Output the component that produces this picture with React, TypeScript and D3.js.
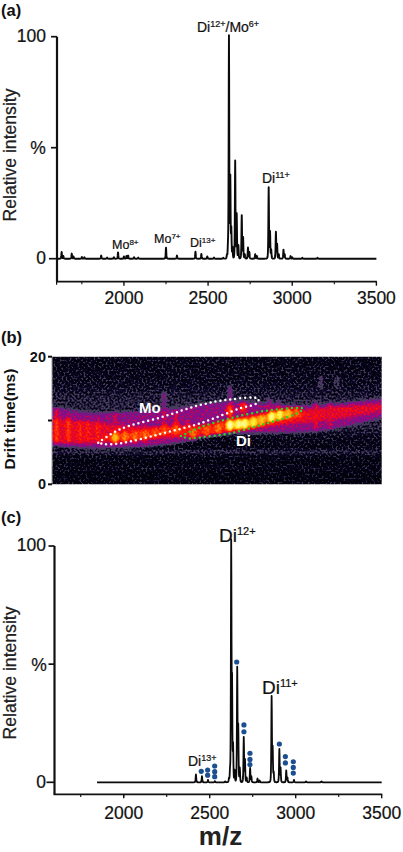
import React from "react";
import * as d3 from "d3";

// ---- Panel (a) spectrum: centroid m/z, relative intensity
const peaksAMz = [1630,1640,1690,1700,1750,1765,1865,1900,1940,1965,2000,2015,2025,2060,2085,2250,2315,2425,2460,2495,2535,2590,2612,2618,2624,2632,2638,2645,2661,2670,2680,2700,2708,2718,2737,2745,2780,2790,2860,2868,2875,2903,2910,2920,2948,2955,2990,3000,3060,3150];
const peaksAInt = [3,1.2,2.3,1,0.8,0.6,1.4,0.5,0.7,2.8,1,1.2,1.4,0.7,0.5,5,1.4,3.2,2.1,1,0.5,0.4,1.5,4,100,36,13,5,44,20,6,19.5,9.5,2,5,3,2,1.2,32,12,4,12,6.5,2,4,2,1.2,0.6,0.4,0.4];

// ---- Panel (c) spectrum
const peaksCMz = [2420,2455,2490,2530,2590,2612,2618,2625,2630,2636,2645,2660,2666,2675,2698,2705,2715,2735,2742,2778,2790,2860,2866,2872,2905,2912,2945,2952,2990,3060,3150];
const peaksCInt = [3.3,2.6,1,0.5,0.4,1.5,4,100,39,15,5,48,23,6,19,9.5,2,6,2.5,1.6,0.8,36,14,4,14,6,5,2,1,0.4,0.4];

// ---- Glycan-like dots on panel (c)
const dotMz = [2451,2488,2488,2529,2529,2529,2657,2699,2699,2734,2734,2734,2905,2940,2940,2986,2986,2986];
const dotInt = [4.65,5.2,3,6.9,4.5,2.4,50.9,24.3,21.4,12.3,9.7,7.5,16.2,10.9,8.2,8.7,6.3,3.9];

// ---- Panel (b) drift map
const haloMz = [1583,1862,2250,2637,3025,3500];
const haloHigh = [12.2,11.2,11.8,13.0,12.4,13.5];
const haloLow = [6.0,5.6,6.2,7.9,8.1,10.4];
const coreMz = [1583,1862,2153,2442,2637,2900,3123,3500];
const coreHigh = [10.4,9.6,9,9.3,10,11.1,11.9,12.6];
const coreLow = [6.5,6.5,7.1,7.6,8.2,9.2,9.8,11.5];
const ridgeMz = [1880,2000,2150,2300,2420,2620,2800,2950,3060];
const ridgeHigh = [7.6,8.2,8.6,9.1,9.1,10.2,11.1,11.6,11.4];
const ridgeLow = [6.9,6.8,7.2,7.8,7.7,8.4,9.2,10,10.7];
const hotMz = [2590,2650,2720,2800,2870,2960];
const hotHigh = [9.7,10,10.2,10.8,11.5,11.7];
const hotLow = [8.6,8.7,8.9,9.5,10,10.6];
const streakMz = [1610,1678,1746,1792,1851,1950,2235,2304,2370,2618,2694,2846,2898,3118,3199,3145,3240,1610];
const streakLow = [6.5,6.5,6.5,6.5,6.5,9.5,8,8,8,9,11,11,11,8.5,8.5,15,15,10];
const streakHigh = [10.5,10.5,10,10,10,11.5,14.5,11,10,15.5,13,13.5,13,13,13,17,17,11.8];
const streakGray = [0.74,0.74,0.68,0.66,0.66,0.54,0.54,0.62,0.62,0.54,0.56,0.53,0.53,0.6,0.56,0.36,0.3,0.6];
const blobMz = [1950,2008,2066,2124,2182,2235,2304,2405,2483,2550,2618,2666,2705,2754,2802,2860,2908,2957,3005,2618,2694];
const blobDrift = [7.3,7.4,7.5,7.7,8,8.5,8.7,7.9,8.4,8.8,9.3,9.4,9.5,9.7,10,10.6,10.9,11.1,11.3,11.5,12];
const blobGray = [0.84,0.76,0.74,0.74,0.7,0.7,0.72,0.74,0.72,0.76,0.98,0.95,0.95,0.9,0.84,0.95,0.92,0.84,0.72,0.7,0.64];
const moMz = [1852,1978,2230,2444,2618,2783,2773,2676,2444,2211,1978,1881,1852];
const moDrift = [6.53,8.62,10.6,12.43,13.3,13.42,12.69,11.9,9.56,7.88,6.42,6.32,6.53];
const diMz = [2333,2444,2618,2831,3044,2986,2831,2618,2444,2376,2333];
const diDrift = [7.57,8.93,10.34,11.54,11.85,10.86,9.56,7.99,7.36,7.2,7.57];
const bgDrift = [20,16,13,9,7,5.5,5.1,4.6,3,2.6,2.2,0];
const bgGray = [0.04,0.07,0.14,0.14,0.05,0.04,0.22,0.04,0.02,0.08,0.02,0.02];

const xTicks = [2000,2500,3000,3500];
const xMinor = [1750,2250,2750,3250];
const yTicks = [0,50,100];

const FONT = "'Liberation Sans', Arial, sans-serif";
const W = 403, H = 852;

const xA = d3.scaleLinear().domain([1600,3500]).range([56.6,376.4]);
const yA = d3.scaleLinear().domain([0,100]).range([258.7,36.7]);
const xC = d3.scaleLinear().domain([2000,3500]).range([123.7,381.7]);
const yC = d3.scaleLinear().domain([0,100]).range([782.3,546]);
const yB = d3.scaleLinear().domain([0,20]).range([484.3,356.7]);

function trace(mz:number[], ints:number[], from:number, to:number, w:number){
  const grid = d3.range(from,to+1,1);
  return grid.map(m=>{
    let s=0;
    mz.forEach((c,i)=>{const d=(m-c)/w; s+=ints[i]/(1+0.25*d*d+0.02*d*d*d*d);});
    return [m,s] as [number,number];
  });
}

const ink = {stroke:"#111",strokeWidth:0.22};

function Sup({x,y,base,sup,size,supSize}:{x:number;y:number;base:string;sup:string;size:number;supSize:number}){
  return <text x={x} y={y} fontSize={size} fontFamily={FONT} fill="#111" {...ink}>
    {base}<tspan dy={-size*0.36} fontSize={supSize}>{sup}</tspan>
  </text>;
}

function Axes({x,y,x0,yBottom,yTop,labY,pctX}:{x:any;y:any;x0:number;yBottom:number;yTop:number;labY:number;pctX:number}){
  return <g stroke="#111" fill="none">
    <line x1={x0} x2={x0} y1={yTop} y2={yBottom} strokeWidth={2.2}/>
    <line x1={x0-1} x2={x.range()[1]+0.5} y1={yBottom} y2={yBottom} strokeWidth={1.8}/>
    {yTicks.map(t=><line key={t} x1={x0-(t===0?8:6)} x2={x0} y1={y(t)} y2={y(t)} strokeWidth={1.7}/>)}
    {xTicks.map(t=><line key={t} x1={x(t)} x2={x(t)} y1={yBottom} y2={yBottom+4} strokeWidth={1.4}/>)}
    {xMinor.map(t=><line key={t} x1={x(t)} x2={x(t)} y1={yBottom} y2={yBottom+2.6} strokeWidth={1.1}/>)}
    <line x1={x.range()[0]} x2={x.range()[0]} y1={yBottom} y2={yBottom+3} strokeWidth={1.2}/>
    <g fill="#111" fontFamily={FONT} fontSize={17.5} textAnchor="middle" {...ink}>
      {xTicks.map(t=><text key={t} x={x(t)} y={labY}>{t}</text>)}
      <text x={46} y={y(100)+5.4} textAnchor="end">100</text>
      <text x={pctX} y={y(50)+6.5}>%</text>
      <text x={46} y={y(0)+5.6} textAnchor="end">0</text>
    </g>
  </g>;
}

export default function App(){
  const lineA = d3.line<[number,number]>().x(d=>xA(d[0])).y(d=>yA(d[1]));
  const lineC = d3.line<[number,number]>().x(d=>xC(d[0])).y(d=>yC(d[1]));
  const band = (mz:number[],lo:number[],hi:number[])=>d3.area<number>().x(i=>xC(mz[i])).y0(i=>yB(lo[i])).y1(i=>yB(hi[i])).curve(d3.curveMonotoneX)(d3.range(mz.length)) as string;
  const outline = (mz:number[],dr:number[])=>d3.line<number>().x(i=>xC(mz[i])).y(i=>yB(dr[i])).curve(d3.curveCatmullRom)(d3.range(mz.length)) as string;
  const gray = (g:number)=>d3.rgb(g*255,g*255,g*255).formatHex();
  const hx0=xC(1583), hx1=381.7;
  const tableR="0 0.05 0.26 0.34 0.5 0.78 0.98 1 1 1 1";
  const tableG="0 0.03 0.25 0.2 0.05 0.02 0.04 0.26 0.62 0.94 1";
  const tableB="0.03 0.16 0.34 0.42 0.58 0.32 0.06 0.02 0.02 0.2 0.9";
  return <svg width={W} height={H} style={{position:"absolute",left:0,top:0,background:"#fff"}}>
    <defs>
      <filter id="hm" x="0" y="0" width="1" height="1" colorInterpolationFilters="sRGB">
        <feGaussianBlur in="SourceGraphic" stdDeviation="1.5" result="b"/>
        <feTurbulence type="fractalNoise" baseFrequency="0.5" numOctaves={1} seed={7} result="n0"/>
        <feColorMatrix in="n0" type="matrix" values="2.6 0 0 0 -0.8 2.6 0 0 0 -0.8 2.6 0 0 0 -0.8 0 0 0 0 1" result="n"/>
        <feComposite in="b" in2="n" operator="arithmetic" k1={-0.3} k2={1.15} k3={0.3} k4={-0.15} result="c"/>
        <feComponentTransfer in="c">
          <feFuncR type="table" tableValues={tableR}/>
          <feFuncG type="table" tableValues={tableG}/>
          <feFuncB type="table" tableValues={tableB}/>
          <feFuncA type="linear" slope={0} intercept={1}/>
        </feComponentTransfer>
      </filter>
      <linearGradient id="bg" x1="0" y1="0" x2="0" y2="1">
        {bgDrift.map((d,i)=><stop key={i} offset={(20-d)/20} stopColor={gray(bgGray[i])}/>)}
      </linearGradient>
      <clipPath id="hc"><rect x={hx0} y={yB(20)} width={hx1-hx0} height={yB(0)-yB(20)}/></clipPath>
    </defs>

    {/* Panel a */}
    <text x={1} y={16} fontSize={16.5} fontWeight="bold" fontFamily={FONT} fill="#111">(a)</text>
    <Axes x={xA} y={yA} x0={57} yBottom={281.7} yTop={36.7} labY={304} pctX={38}/>
    <path d={lineA(trace(peaksAMz,peaksAInt,1600,3500,1.1)) as string} fill="none" stroke="#0a0a0a" strokeWidth={1.9} strokeLinejoin="round"/>
    <text transform="translate(16,155) rotate(-90)" fontSize={17.6} fontFamily={FONT} fill="#222" textAnchor="middle" {...ink}>Relative intensity</text>
    <text x={197} y={32} fontSize={14} fontFamily={FONT} fill="#111" {...ink}>Di<tspan dy={-5} fontSize={9}>12+</tspan><tspan dy={5}>/Mo</tspan><tspan dy={-5} fontSize={9}>6+</tspan></text>
    <Sup x={112} y={249} base="Mo" sup="8+" size={12.5} supSize={8}/>
    <Sup x={154} y={243} base="Mo" sup="7+" size={12.5} supSize={8}/>
    <Sup x={190} y={247} base="Di" sup="13+" size={12.5} supSize={8}/>
    <Sup x={262} y={183} base="Di" sup="11+" size={14} supSize={9}/>

    {/* Panel b */}
    <text x={1} y={343} fontSize={16.5} fontWeight="bold" fontFamily={FONT} fill="#111">(b)</text>
    <g clipPath="url(#hc)">
      <g filter="url(#hm)">
        <rect x={hx0} y={yB(20)} width={hx1-hx0} height={yB(0)-yB(20)} fill="url(#bg)"/>
        <path d={band(haloMz,haloLow,haloHigh)} fill={gray(0.42)}/>
        <path d={band(coreMz,coreLow,coreHigh)} fill={gray(0.56)}/>
        <path d={band(ridgeMz,ridgeLow,ridgeHigh)} fill={gray(0.63)}/>
        <path d={band(hotMz,hotLow,hotHigh)} fill={gray(0.74)}/>
        {streakMz.map((m,i)=><rect key={i} x={xC(m)-1.4} width={2.8} y={yB(streakHigh[i])} height={yB(streakLow[i])-yB(streakHigh[i])} rx={1.4} fill={gray(streakGray[i])}/>)}
        {blobMz.map((m,i)=><ellipse key={i} cx={xC(m)} cy={yB(blobDrift[i])} rx={3.6} ry={6} fill={gray(blobGray[i])}/>)}
      </g>
    </g>
    <rect x={hx0-0.5} y={yB(20)} width={1} height={yB(0)-yB(20)} fill="#aaa"/>
    <path d={outline(moMz,moDrift)} fill="none" stroke="#fff" strokeWidth={2.5} strokeLinecap="round" strokeDasharray="0 5"/>
    <path d={outline(diMz,diDrift)} fill="none" stroke="#27d627" strokeWidth={2.5} strokeLinecap="round" strokeDasharray="0 5"/>
    <text x={139} y={413} fontSize={15} fontWeight="bold" fontFamily={FONT} fill="#fff">Mo</text>
    <text x={236} y={446} fontSize={15} fontWeight="bold" fontFamily={FONT} fill="#fff">Di</text>
    <g stroke="#111" strokeWidth={2}>
      {[0,10,20].map(t=><line key={t} x1={48} x2={52} y1={yB(t)} y2={yB(t)}/>)}
    </g>
    <text x={46} y={362} fontSize={14.5} fontWeight="bold" fontFamily={FONT} fill="#111" textAnchor="end">20</text>
    <text x={46} y={488.5} fontSize={14.5} fontWeight="bold" fontFamily={FONT} fill="#111" textAnchor="end">0</text>
    <text transform="translate(15,419) rotate(-90)" fontSize={15.5} fontWeight="bold" fontFamily={FONT} fill="#111" textAnchor="middle">Drift time(ms)</text>

    {/* Panel c */}
    <text x={1} y={523} fontSize={16.5} fontWeight="bold" fontFamily={FONT} fill="#111">(c)</text>
    <Axes x={xC} y={yC} x0={54.5} yBottom={794.3} yTop={546} labY={819} pctX={39}/>
    <path d={lineC(trace(peaksCMz,peaksCInt,1845,3500,1.1)) as string} fill="none" stroke="#0a0a0a" strokeWidth={1.8} strokeLinejoin="round"/>
    <g fill="#1c4f8f">
      {dotMz.map((m,i)=><circle key={i} cx={xC(m)} cy={yC(dotInt[i])} r={2.6}/>)}
    </g>
    <text transform="translate(16,673) rotate(-90)" fontSize={17.6} fontFamily={FONT} fill="#222" textAnchor="middle" {...ink}>Relative intensity</text>
    <Sup x={219} y={542} base="Di" sup="12+" size={19} supSize={11}/>
    <Sup x={262} y={694} base="Di" sup="11+" size={19} supSize={11}/>
    <Sup x={188} y={766} base="Di" sup="13+" size={14} supSize={9}/>
    <text x={220.5} y={845} fontSize={26} fontWeight="bold" fontFamily={FONT} fill="#222" textAnchor="middle">m/z</text>
  </svg>;
}
